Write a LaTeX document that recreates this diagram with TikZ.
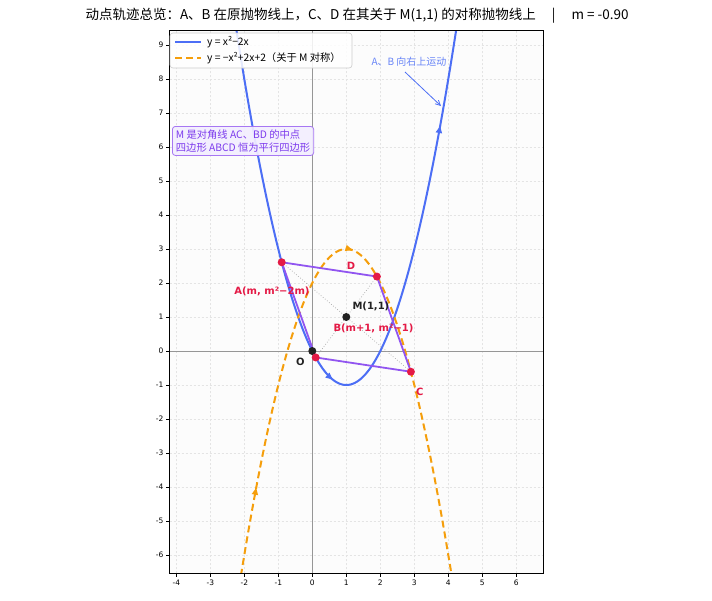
\documentclass[tikz,border=0pt]{standalone}
\usepackage{fontspec}
\setmainfont{Noto Sans CJK SC}
\newfontfamily\dvs{DejaVu Sans}
\usetikzlibrary{arrows.meta}
\definecolor{cblue}{RGB}{76,110,245}
\definecolor{corange}{RGB}{245,158,11}
\definecolor{cred}{RGB}{228,26,70}
\definecolor{cpurple}{RGB}{145,85,240}
\definecolor{cdark}{RGB}{34,34,34}
\definecolor{cgrid}{RGB}{228,228,228}
\definecolor{cbox}{RGB}{243,238,255}
\definecolor{cboxtext}{RGB}{124,58,237}
\definecolor{caxis}{RGB}{150,150,150}
\tikzset{
  bluecurve/.style={cblue, line width=2pt},
  orangecurve/.style={corange, line width=2pt, dash pattern=on 7pt off 4pt},
  side/.style={cpurple, line width=1.8pt},
  diag/.style={gray!70, line width=0.7pt, dotted},
  redpt/.style={circle, fill=cred, inner sep=0pt, minimum size=8pt},
  blackpt/.style={circle, fill=cdark, inner sep=0pt, minimum size=8pt},
  ptlabel/.style={font=\dvs\bfseries\fontsize{10}{11}\selectfont, inner sep=0pt},
  ticklab/.style={font=\dvs\fontsize{7.5}{8.5}\selectfont, inner sep=0pt},
  gridline/.style={cgrid, line width=0.5pt, dash pattern=on 2pt off 2pt},
}
\begin{document}
\begin{tikzpicture}[x=1pt,y=1pt]
\useasboundingbox (0,0) rectangle (712,-600);
\fill[white] (0,0) rectangle (712,-600);
\node[font=\fontsize{13.5}{15}\selectfont, inner sep=0pt] (title) at (357,-16)
  {动点轨迹总览：A、B 在原抛物线上，C、D 在其关于 M(1,1) 的对称抛物线上\hspace{16pt}|\hspace{16pt}m = -0.90};
\begin{scope}[shift={(312.3,-351)}, x=34pt, y=34pt]
  \fill[black!1] (-4.2,-6.54) rectangle (6.8,9.44);
  \foreach \i in {-4,...,6} \draw[gridline] (\i,-6.54) -- (\i,9.44);
  \foreach \j in {-6,...,9} \draw[gridline] (-4.2,\j) -- (6.8,\j);
  \draw[caxis, line width=0.8pt] (-4.2,0) -- (6.8,0);
  \draw[caxis, line width=0.8pt] (0,-6.54) -- (0,9.44);
  \foreach \i in {-4,...,6} {
    \draw[line width=0.6pt] (\i,-6.54) -- ++(0,-3.5pt);
    \node[ticklab, anchor=north] (xt\i) at ([yshift=-6pt]\i,-6.54) {\i};
  }
  \foreach \j in {-6,...,9} {
    \draw[line width=0.6pt] (-4.2,\j) -- ++(-3.5pt,0);
    \node[ticklab, anchor=east] (yt\j) at ([xshift=-6pt]-4.2,\j) {\j};
  }
  \begin{scope}
    \clip (-4.2,-6.54) rectangle (6.8,9.44);
    \draw[bluecurve, domain=-2.4:4.4, samples=200] plot (\x,{\x*\x-2*\x});
    \draw[orangecurve, domain=-2.3:4.3, samples=200] plot (\x,{-\x*\x+2*\x+2});
  \end{scope}
  \draw[line width=0.8pt] (-4.2,-6.54) rectangle (6.8,9.44);
  % direction arrows on curves
  \draw[bluecurve, -{Triangle[length=7pt,width=6pt]}] (0.56,{0.56*0.56-2*0.56}) -- (0.6,{0.6*0.6-1.2});
  \draw[bluecurve, -{Triangle[length=7pt,width=6pt]}] (3.74,{3.74*3.74-2*3.74}) -- (3.76,{3.76*3.76-2*3.76});
  \draw[corange, line width=2pt, -{Triangle[length=7pt,width=6pt]}] (1.14,{-1.14*1.14+2*1.14+2}) -- (1.18,{-1.18*1.18+2*1.18+2});
  \draw[corange, line width=2pt, -{Triangle[length=7pt,width=6pt]}] (-1.68,{-1.68*1.68-2*1.68+2}) -- (-1.65,{-1.65*1.65-2*1.65+2});
  % points
  \coordinate (A) at (-0.9,2.61);
  \coordinate (B) at (0.1,-0.19);
  \coordinate (C) at (2.9,-0.61);
  \coordinate (D) at (1.9,2.19);
  \draw[diag] (A) -- (C);
  \draw[diag] (B) -- (D);
  \draw[side] (A) -- (B) -- (C) -- (D) -- cycle;
  \node[blackpt] (O) at (0,0) {};
  \node[blackpt] (M) at (1,1) {};
  \node[redpt] (Ap) at (A) {};
  \node[redpt] (Bp) at (B) {};
  \node[redpt] (Cp) at (C) {};
  \node[redpt] (Dp) at (D) {};
  \node[ptlabel, text=cred, anchor=east] (Al) at ([xshift=28pt,yshift=-29pt]A) {A(m, m²−2m)};
  \node[ptlabel, text=cred] (Dl) at ([xshift=-26pt,yshift=11pt]D) {D};
  \node[ptlabel, text=cdark, anchor=west] (Ml) at ([xshift=6pt,yshift=11pt]M) {M(1,1)};
  \node[ptlabel, text=cred, anchor=west] (Bl) at ([xshift=-13pt,yshift=-11pt]M) {B(m+1, m²−1)};
  \node[ptlabel, text=cdark] (Ol) at ([xshift=-12pt,yshift=-11pt]O) {O};
  \node[ptlabel, text=cred] (Cl) at ([xshift=9pt,yshift=-20pt]C) {C};
\end{scope}
% legend
\draw[gray!40, fill=white, fill opacity=0.85, rounded corners=3pt, line width=0.6pt] (170,-33) rectangle (352,-68);
\draw[bluecurve] (175,-42) -- (201,-42);
\draw[orangecurve] (175,-58) -- (201,-58);
\node[anchor=west, inner sep=0pt, font=\fontsize{10.3}{12}\selectfont] (lg1) at (207,-42) {y = x²−2x};
\node[anchor=west, inner sep=0pt, font=\fontsize{10.3}{12}\selectfont] (lg2) at (207,-58) {y = −x²+2x+2（关于 M 对称）};
% info box
\node[draw=cpurple!80, fill=cbox, fill opacity=0.92, text opacity=1, rounded corners=3pt, line width=0.8pt,
      text=cboxtext, align=left, font=\fontsize{10.3}{12.5}\selectfont, inner sep=3.5pt, anchor=north west] (info) at (172,-126)
  {M 是对角线 AC、BD 的中点\\四边形 ABCD 恒为平行四边形};
% annotation
\node[text=cblue!85, font=\fontsize{10}{11}\selectfont, inner sep=1pt] (ann) at (409,-62) {A、B 向右上运动};
\coordinate (annTip) at (441,-106);
\draw[cblue, line width=0.8pt, -{Straight Barb[length=5pt,width=5pt]}] (405,-72) -- (annTip);
\end{tikzpicture}
\end{document}
